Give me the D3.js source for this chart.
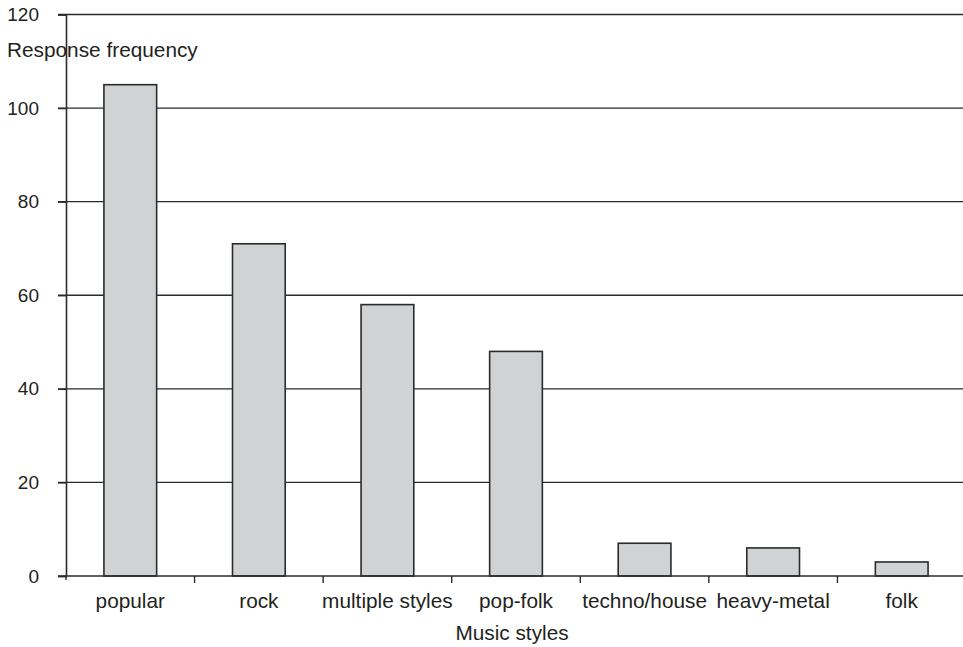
<!DOCTYPE html>
<html>
<head>
<meta charset="utf-8">
<script src="https://cdn.jsdelivr.net/npm/d3@7"></script>
<style>
  html, body { margin: 0; padding: 0; background: #fff; }
  svg { display: block; }
  text { font-family: "Liberation Sans", Arial, Helvetica, sans-serif; fill: #231f20; }
</style>
</head>
<body>
<svg id="chart" width="963" height="647"></svg>
<script>
const categories = ["popular", "rock", "multiple styles", "pop-folk", "techno/house", "heavy-metal", "folk"];
const values = [105, 71, 58, 48, 7, 6, 3];
const yTicks = [0, 20, 40, 60, 80, 100, 120];
const yTitle = "Response frequency";
const xTitle = "Music styles";

const svg = d3.select("#chart");
const plotLeft = 66, plotRight = 966, plotTop = 14.5, plotBottom = 576;
const lineColor = "#2b2b2b";

const x = d3.scaleBand().domain(categories).range([plotLeft, plotRight]).paddingInner(0).paddingOuter(0);
const y = d3.scaleLinear().domain([0, 120]).range([plotBottom, plotTop]);

// gridlines (including top)
svg.append("g").selectAll("line").data(yTicks.filter(d => d > 0)).join("line")
  .attr("x1", 58).attr("x2", 963)
  .attr("y1", d => y(d)).attr("y2", d => y(d))
  .attr("stroke", lineColor).attr("stroke-width", 1.4);

// y axis
const yAxis = d3.axisLeft(y).tickValues(yTicks).tickSize(8).tickPadding(19).tickFormat(d3.format("d"));
const gy = svg.append("g").attr("transform", `translate(${plotLeft},0)`).call(yAxis);
gy.select(".domain").attr("stroke", lineColor).attr("stroke-width", 1.6);
gy.selectAll(".tick line").attr("stroke", lineColor).attr("stroke-width", 1.4);
gy.selectAll(".tick text").attr("font-size", 19).attr("fill", "#231f20")
  .attr("font-family", "'Liberation Sans', Arial, sans-serif");

// bars
const barW = x.bandwidth() * 0.41;
svg.append("g").selectAll("rect").data(values).join("rect")
  .attr("x", (d, i) => x(categories[i]) + (x.bandwidth() - barW) / 2)
  .attr("y", d => y(d))
  .attr("width", barW)
  .attr("height", d => y(0) - y(d))
  .attr("fill", "#d1d2d4")
  .attr("stroke", "#2b2b2b")
  .attr("stroke-width", 1.6);

// x axis baseline
svg.append("line").attr("x1", 58).attr("x2", 963).attr("y1", plotBottom).attr("y2", plotBottom)
  .attr("stroke", lineColor).attr("stroke-width", 1.6);

// x ticks at band boundaries
const boundaries = categories.map(c => x(c));
svg.append("g").selectAll("line").data(boundaries).join("line")
  .attr("x1", d => d).attr("x2", d => d)
  .attr("y1", plotBottom).attr("y2", (d, i) => i === 0 ? plotBottom + 4 : plotBottom + 7)
  .attr("stroke", lineColor).attr("stroke-width", 1.4);

// category labels
svg.append("g").selectAll("text").data(categories).join("text")
  .attr("x", d => x(d) + x.bandwidth() / 2)
  .attr("y", 608)
  .attr("text-anchor", "middle")
  .attr("font-size", 20.8)
  .text(d => d);

// titles
svg.append("text").attr("x", 7).attr("y", 57).attr("font-size", 20.8).text(yTitle);
svg.append("text").attr("x", 512).attr("y", 640).attr("text-anchor", "middle").attr("font-size", 20.8).text(xTitle);
</script>
</body>
</html>
